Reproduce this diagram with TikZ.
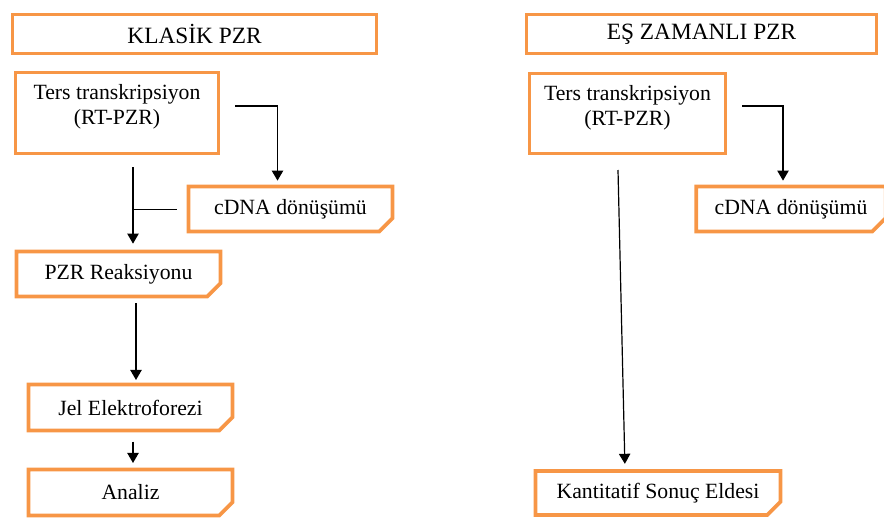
\documentclass[tikz,border=0pt]{standalone}
\usepackage{fontspec}
\setmainfont{Liberation Serif}
\usetikzlibrary{shapes.misc,arrows.meta,calc}

\definecolor{boxorange}{RGB}{247,150,70}
\definecolor{foldorange}{RGB}{250,190,140}

\tikzset{every picture/.style={line width=0.75pt}}
\tikzset{
	titlebox/.style={draw=boxorange, line width=2.8pt, rectangle, inner sep=0pt, font=\fontsize{17.5}{21}\selectfont},
	notebox/.style={draw=boxorange, line width=2.8pt, chamfered rectangle, chamfered rectangle corners=south east,
		chamfered rectangle xsep=5pt, chamfered rectangle ysep=5pt, inner sep=0pt, font=\fontsize{16.3}{19}\selectfont,
		path picture={\fill[foldorange] ($(path picture bounding box.south east)+(-9,0)$) -- ($(path picture bounding box.south east)+(0,-9)$) -- ($(path picture bounding box.south east)+(-8,-8)$) -- cycle;}},
	notetext/.style={align=center, font=\fontsize{16.3}{18.75}\selectfont, inner sep=0pt},
	arr/.style={-{Triangle[width=8.5pt,length=7.5pt]}, line width=0.9pt}
}

\begin{document}
\begin{tikzpicture}[x=0.75pt,y=0.75pt,yscale=-1,xscale=1]
	\useasboundingbox (0,0) rectangle (884,518);

	% Title Nodes
	\node[titlebox, minimum width=273pt, minimum height=29.25pt] (klasik) at (194.5,34) {KLASİK PZR};
	\node[titlebox, minimum width=262.5pt, minimum height=29.25pt] (eszaman) at (701.5,34) {EŞ ZAMANLI PZR};

	% Boxes, left column
	\node[notebox, minimum width=152.25pt, minimum height=60.75pt] (rtL) at (117,113) {};
	\node[notetext, anchor=north] (rtLtext) at ($(rtL.north)+(0,13)$) {Ters transkripsiyon\\(RT-PZR)};
	\node[notebox, minimum width=153pt, minimum height=33.75pt] (cdL) at (290.5,209) {cDNA dönüşümü};
	\node[notebox, minimum width=153pt, minimum height=33.75pt] (pzr) at (118.5,274) {PZR Reaksiyonu};
	\node[notebox, minimum width=153pt, minimum height=34.5pt] (jel) at (130.5,407.5) {Jel Elektroforezi};
	\node[notebox, minimum width=153pt, minimum height=34.5pt] (analiz) at (130.5,492.5) {Analiz};

	% Boxes, right column
	\node[notebox, minimum width=147pt, minimum height=60pt] (rtR) at (627.5,113.5) {};
	\node[notetext, anchor=north] (rtRtext) at ($(rtR.north)+(0,13)$) {Ters transkripsiyon\\(RT-PZR)};
	\node[notebox, minimum width=142pt, minimum height=33.75pt] (cdR) at (791,209) {cDNA dönüşümü};
	\node[notebox, minimum width=183.75pt, minimum height=33pt] (kant) at (658,493) {Kantitatif Sonuç Eldesi};

	% Connector start points
	\coordinate (aL) at (235,106);
	\coordinate (vL) at (133,167);
	\coordinate (pL) at (136,303);
	\coordinate (aR) at (742,106);
	\coordinate (vR) at (618,170);

	%Straight Lines
	\draw[arr, shorten >=3pt] (aL) -| ($(cdL.north)+(-13,0)$);
	\draw[arr, shorten >=4.5pt] (vL) -- (vL |- pzr.north);
	\draw[shorten <=7.5pt] (cdL.west) -- (vL |- cdL.west);
	\draw[arr, shorten >=2pt] (pL) -- (pL |- jel.north);
	\draw[arr, shorten <=7pt, shorten >=3.5pt] ($(jel.south)+(2.5,0)$) -- ($(analiz.north)+(2.5,0)$);
	\draw[arr, shorten >=3pt] (aR) -| ($(cdR.north)+(-8,0)$);
	\draw[arr, shorten >=4pt] (vR) -- ($(kant.north)+(-33,0)$);

\end{tikzpicture}
\end{document}
